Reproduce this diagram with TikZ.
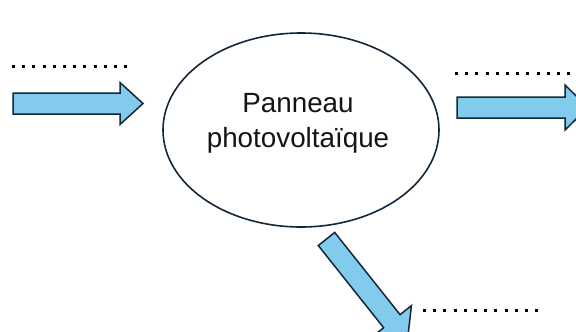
\documentclass[tikz,border=0pt]{standalone}
\usepackage{fontspec}
\setmainfont{Liberation Sans}
\usetikzlibrary{shapes.geometric}
\definecolor{arrowfill}{RGB}{130,203,236}
\definecolor{navy}{RGB}{18,40,58}
\tikzset{
  bluearrow/.style={fill=arrowfill,draw=navy,line width=1.5pt,line join=miter},
  dotline/.style={line width=3pt,dash pattern=on 3pt off 7.2pt,black},
  panel/.style={ellipse,draw=navy,line width=1.6pt,minimum width=276pt,minimum height=194pt,inner sep=0pt},
  lbl/.style={font=\fontsize{27.8}{35}\selectfont,align=center,text=black!92}
}
\begin{document}
\begin{tikzpicture}[x=1pt,y=-1pt]
\useasboundingbox (0,0) rectangle (576,332);
\clip (0,0) rectangle (576,332);
\node[panel] (pv) at (301,130) {};
\node[lbl] (pvt) at (298,123) {Panneau\\photovoltaïque};
% left arrow
\begin{scope}[shift={(13,103.5)}]
\draw[bluearrow] (0,-10.5) -- (107,-10.5) -- (107,-21) -- (130,0) -- (107,21) -- (107,10.5) -- (0,10.5) -- cycle;
\end{scope}
% right arrow
\begin{scope}[shift={(457,107.5)}]
\draw[bluearrow] (0,-10.5) -- (108,-10.5) -- (108,-22.5) -- (131,0) -- (108,22.5) -- (108,10.5) -- (0,10.5) -- cycle;
\end{scope}
% diagonal arrow
\begin{scope}[shift={(326.5,239)},rotate=-51.5]
\draw[bluearrow] (0,-10.5) -- (105,-10.5) -- (105,-25) -- (130,0) -- (105,25) -- (105,10.5) -- (0,10.5) -- cycle;
\end{scope}
% dotted lines
\coordinate (d1a) at (12,66); \coordinate (d1b) at (134,66);
\coordinate (d2a) at (455,73); \coordinate (d2b) at (580,73);
\coordinate (d3a) at (423,310); \coordinate (d3b) at (545,310);
\draw[dotline] (d1a) -- (d1b);
\draw[dotline] (d2a) -- (d2b);
\draw[dotline] (d3a) -- (d3b);
\end{tikzpicture}
\end{document}
